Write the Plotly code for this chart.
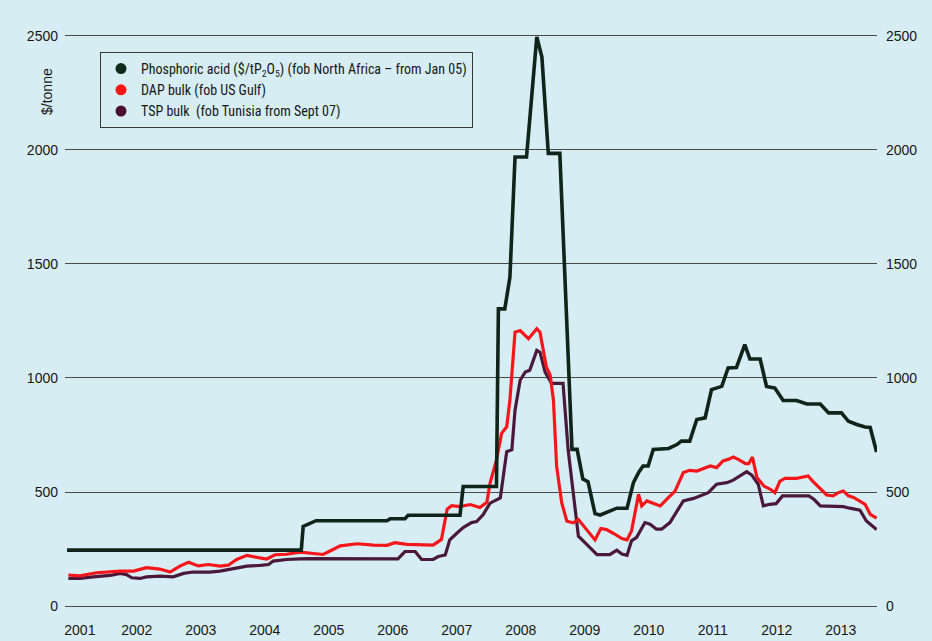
import plotly.graph_objects as go

# ---- data (decimal years, $/tonne) ----
acid_x = [2001.36, 2005.02, 2005.05, 2005.13, 2005.25, 2006.36, 2006.41, 2006.64, 2006.69, 2007.50,
          2007.55, 2008.07, 2008.10, 2008.20, 2008.28, 2008.36, 2008.54, 2008.70, 2008.78, 2008.88,
          2009.06, 2009.25, 2009.33, 2009.42, 2009.50, 2009.61, 2009.69, 2009.82, 2009.95, 2010.11,
          2010.21, 2010.29, 2010.36, 2010.44, 2010.52, 2010.76, 2010.89, 2010.96, 2011.09, 2011.20,
          2011.33, 2011.43, 2011.59, 2011.69, 2011.82, 2011.95, 2012.03, 2012.19, 2012.29, 2012.42,
          2012.55, 2012.76, 2012.92, 2013.13, 2013.26, 2013.46, 2013.57, 2013.70, 2013.83, 2013.91,
          2014.01]
acid_y = [245, 245, 349, 359, 374, 374, 383, 383, 398, 398,
          524, 524, 1303, 1303, 1441, 1969, 1969, 2496, 2407, 1985,
          1985, 687, 687, 557, 545, 405, 399, 414, 429, 429,
          541, 585, 614, 614, 687, 691, 708, 723, 723, 818,
          825, 949, 963, 1044, 1046, 1146, 1083, 1083, 963, 956,
          901, 901, 886, 886, 847, 847, 810, 796, 785, 783,
          675]

dap_x = [2001.38, 2001.56, 2001.82, 2002.03, 2002.19, 2002.40, 2002.60, 2002.81, 2002.97, 2003.13,
         2003.26, 2003.41, 2003.57, 2003.75, 2003.88, 2004.01, 2004.17, 2004.35, 2004.48, 2004.61,
         2004.79, 2005.00, 2005.18, 2005.36, 2005.47, 2005.63, 2005.89, 2006.15, 2006.36, 2006.48,
         2006.67, 2006.93, 2007.08, 2007.21, 2007.25, 2007.30, 2007.37, 2007.50, 2007.66, 2007.81,
         2007.92, 2007.97, 2008.07, 2008.15, 2008.23, 2008.28, 2008.36, 2008.44, 2008.57, 2008.70,
         2008.75, 2008.85, 2008.91, 2008.96, 2009.01, 2009.09, 2009.17, 2009.27, 2009.35, 2009.48,
         2009.61, 2009.70, 2009.79, 2009.90, 2010.03, 2010.11, 2010.18, 2010.29, 2010.34, 2010.42,
         2010.50, 2010.63, 2010.76, 2010.86, 2010.99, 2011.09, 2011.20, 2011.30, 2011.41, 2011.51,
         2011.61, 2011.69, 2011.77, 2011.85, 2011.96, 2012.01, 2012.07, 2012.14, 2012.25, 2012.35,
         2012.42, 2012.50, 2012.58, 2012.76, 2012.86, 2012.94, 2013.01, 2013.13, 2013.23, 2013.33,
         2013.41, 2013.49, 2013.57, 2013.65, 2013.75, 2013.83, 2013.91, 2014.01]
dap_y = [136, 132, 146, 150, 153, 153, 168, 162, 149, 176,
         192, 176, 182, 175, 179, 204, 222, 212, 206, 225,
         227, 236, 231, 226, 241, 264, 273, 267, 266, 278,
         270, 267, 267, 292, 351, 425, 440, 436, 445, 432,
         455, 539, 641, 757, 786, 903, 1201, 1208, 1172, 1216,
         1201, 1048, 1012, 903, 612, 452, 372, 365, 379, 333,
         290, 340, 335, 318, 296, 290, 329, 490, 439, 461,
         454, 439, 476, 504, 585, 595, 592, 604, 614, 607,
         636, 643, 653, 643, 624, 624, 653, 563, 526, 512,
         497, 548, 560, 560, 566, 570, 548, 512, 487, 483,
         497, 504, 483, 476, 461, 446, 402, 385]

tsp_x = [2001.38, 2001.56, 2001.77, 2002.03, 2002.19, 2002.29, 2002.37, 2002.50, 2002.60, 2002.81,
         2003.02, 2003.18, 2003.33, 2003.59, 2003.75, 2004.01, 2004.17, 2004.38, 2004.51, 2004.58,
         2004.79, 2005.00, 2005.13, 2006.53, 2006.64, 2006.80, 2006.90, 2007.08, 2007.16, 2007.27,
         2007.34, 2007.45, 2007.55, 2007.68, 2007.76, 2007.86, 2007.97, 2008.13, 2008.18, 2008.23,
         2008.31, 2008.36, 2008.44, 2008.52, 2008.59, 2008.70, 2008.75, 2008.83, 2008.93, 2009.11,
         2009.19, 2009.27, 2009.35, 2009.48, 2009.64, 2009.84, 2009.95, 2010.03, 2010.11, 2010.18,
         2010.26, 2010.39, 2010.47, 2010.57, 2010.65, 2010.78, 2010.89, 2010.99, 2011.15, 2011.25,
         2011.38, 2011.51, 2011.67, 2011.77, 2011.84, 2011.98, 2012.06, 2012.16, 2012.24, 2012.34,
         2012.44, 2012.54, 2012.95, 2013.03, 2013.13, 2013.49, 2013.59, 2013.75, 2013.85, 2014.01]
tsp_y = [121, 121, 128, 134, 143, 138, 124, 121, 128, 131,
         128, 143, 149, 149, 153, 168, 175, 178, 182, 197,
         204, 207, 208, 207, 239, 239, 204, 204, 217, 224,
         290, 319, 344, 366, 370, 400, 451, 474, 568, 677,
         685, 859, 990, 1026, 1034, 1121, 1113, 1026, 976, 976,
         685, 496, 306, 270, 225, 225, 245, 228, 222, 286,
         301, 366, 359, 337, 337, 366, 417, 461, 472, 482,
         497, 534, 541, 552, 563, 589, 574, 534, 439, 446,
         449, 483, 483, 468, 439, 436, 429, 420, 373, 335]

year_labels = ["2001", "2002", "2003", "2004", "2005", "2006", "2007",
               "2008", "2009", "2010", "2011", "2012", "2013"]
y_ticks = [0, 500, 1000, 1500, 2000, 2500]

series_names = [
    "Phosphoric acid ($/tP<sub>2</sub>O<sub>5</sub>) (fob North Africa – from Jan 05)",
    "DAP bulk (fob US Gulf)",
    "TSP bulk  (fob Tunisia from Sept 07)",
]

# ---- styling ----
C_ACID = "#10241a"
C_DAP = "#f5161c"
C_TSP = "#4a1838"
LEG_ACID = "#0f2a18"
LEG_DAP = "#ff1414"
LEG_TSP = "#4a0f30"
BG = "#d6eef3"
GRID = "#4a4a4a"
TXT = "#161616"

fig = go.Figure()

fig.add_trace(go.Scatter(x=tsp_x, y=tsp_y, mode="lines", showlegend=False,
                         line=dict(color=C_TSP, width=3.2), hoverinfo="x+y"))
fig.add_trace(go.Scatter(x=dap_x, y=dap_y, mode="lines", showlegend=False,
                         line=dict(color=C_DAP, width=3.2), hoverinfo="x+y"))
fig.add_trace(go.Scatter(x=acid_x, y=acid_y, mode="lines", showlegend=False,
                         line=dict(color=C_ACID, width=3.6), hoverinfo="x+y"))

# legend entries (dot symbols as in the original)
for name, col in zip(series_names, [LEG_ACID, LEG_DAP, LEG_TSP]):
    fig.add_trace(go.Scatter(x=[None], y=[None], mode="markers", name=name,
                             marker=dict(color=col, size=11, symbol="circle")))

# invisible trace to carry right-hand axis
fig.add_trace(go.Scatter(x=[acid_x[0]], y=[0], yaxis="y2", mode="markers",
                         marker=dict(opacity=0), showlegend=False, hoverinfo="skip"))

tick_pos = [max(int(y) + 0.45, 2001.56) for y in year_labels]

yr = [-35, 2561]
fig.update_layout(
    width=932, height=641,
    margin=dict(l=65, r=55, t=22, b=27),
    paper_bgcolor=BG, plot_bgcolor=BG,
    font=dict(family="Liberation Sans, Arial, sans-serif", size=14, color=TXT),
    xaxis=dict(range=[2001.328, 2014.016], showgrid=False, zeroline=False, showline=False,
               tickvals=tick_pos, ticktext=year_labels,
               ticks="", ticklabelstandoff=6, tickfont=dict(size=14), automargin=False),
    yaxis=dict(range=yr, tickvals=y_ticks, showgrid=True, gridcolor=GRID, gridwidth=1,
               zeroline=False, showline=False, ticks="", ticklabelstandoff=6,
               tickfont=dict(size=14), automargin=False),
    yaxis2=dict(range=yr, overlaying="y", side="right", tickvals=y_ticks, showgrid=False,
                zeroline=False, showline=False, ticks="", ticklabelstandoff=8,
                tickfont=dict(size=14), automargin=False),
    legend=dict(x=(100 - 65) / 812, xanchor="left", y=(614 - 52) / 592, yanchor="top",
                bgcolor="rgba(0,0,0,0)", bordercolor="#3a3a3a", borderwidth=1,
                font=dict(family="Liberation Sans Narrow, Arial Narrow, Roboto Condensed, Liberation Sans, sans-serif",
                          size=14, color=TXT),
                itemwidth=30, tracegroupgap=0),
    annotations=[dict(text="$/tonne", x=(47 - 65) / 812, y=(614 - 92) / 592,
                      xref="paper", yref="paper", xanchor="center", yanchor="middle",
                      showarrow=False, textangle=-90, font=dict(size=14, color=TXT))],
)

fig.write_html("out.html",
               config={"displayModeBar": False},
               post_script="document.body.style.margin='0';"
                           "document.body.style.background='" + BG + "';")
